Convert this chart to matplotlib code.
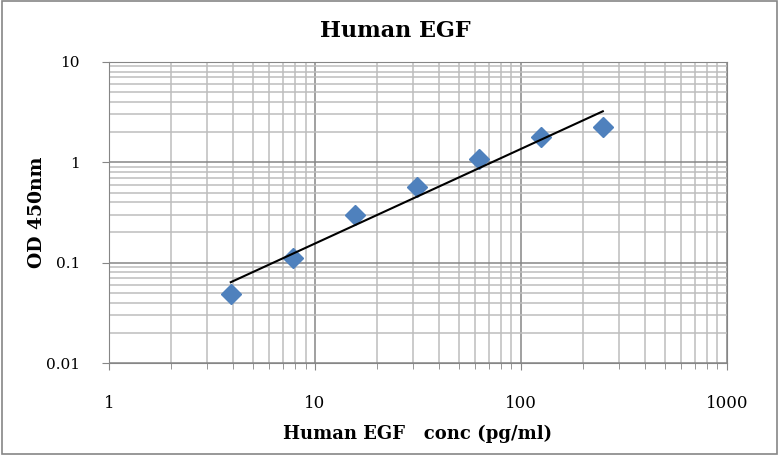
import numpy as np
import matplotlib
matplotlib.use('Agg')
import matplotlib.pyplot as plt
from matplotlib.ticker import LogLocator, FixedLocator, NullFormatter

# standard curve data
conc = [3.9, 7.8, 15.6, 31.25, 62.5, 125, 250]
od = [0.0485, 0.1125, 0.298, 0.566, 1.09, 1.77, 2.23]

x_ticks = [1, 10, 100, 1000]
x_tick_labels = ['1', '10', '100', '1000']
y_ticks = [0.01, 0.1, 1, 10]
y_tick_labels = ['0.01', '0.1', '1', '10']

plt.rcParams['font.family'] = ['DejaVu Serif']

fig = plt.figure(figsize=(7.79, 4.55), dpi=100)
ax = fig.add_axes([0.140, 0.202, 0.793, 0.662])

# power trendline (linear fit in log-log)
lx = np.log10(conc)
ly = np.log10(od)
slope, icpt = np.polyfit(lx, ly, 1)
xfit = np.array([conc[0], conc[-1]])
yfit = 10 ** (icpt + slope * np.log10(xfit))

ax.plot(conc, od, linestyle='none', marker='D', markersize=10,
        color='#4F81BD', markeredgecolor='#4F81BD', zorder=3)
ax.plot(xfit, yfit, color='black', linewidth=1.5, zorder=4)

ax.set_xscale('log')
ax.set_yscale('log')
ax.set_xlim(1, 1000)
ax.set_ylim(0.01, 10)

ax.xaxis.set_major_locator(FixedLocator(x_ticks))
ax.set_xticklabels(x_tick_labels)
ax.yaxis.set_major_locator(FixedLocator(y_ticks))
ax.set_yticklabels(y_tick_labels)
ax.xaxis.set_minor_locator(LogLocator(base=10, subs=np.arange(2, 10)))
ax.yaxis.set_minor_locator(LogLocator(base=10, subs=np.arange(2, 10)))
ax.xaxis.set_minor_formatter(NullFormatter())
ax.yaxis.set_minor_formatter(NullFormatter())

ax.grid(True, which='major', color='#868686', linewidth=1.1)
ax.grid(True, which='minor', color='#bdbdbd', linewidth=1.1)
ax.set_axisbelow(True)

ax.tick_params(axis='x', which='major', length=5, color='#868686', pad=18, labelsize=12)
ax.tick_params(axis='x', which='minor', length=4, color='#868686')
ax.tick_params(axis='y', which='major', length=5, color='#868686', pad=16, labelsize=11)
ax.tick_params(axis='y', which='minor', length=0)

for s in ax.spines.values():
    s.set_color('#868686')

ax.set_xlabel('Human EGF   conc (pg/ml)', fontsize=13, fontweight='bold', labelpad=9)
ax.set_ylabel('OD 450nm', fontsize=13.5, fontweight='bold', labelpad=0)
fig.suptitle('Human EGF', x=0.507, y=0.955, fontsize=16, fontweight='bold')

# chart border
fig.patches.append(plt.Rectangle((0.003, 0.003), 0.994, 0.994, transform=fig.transFigure,
                                 fill=False, edgecolor='#868686', linewidth=1.2))

fig.savefig('out.png', dpi=100)
